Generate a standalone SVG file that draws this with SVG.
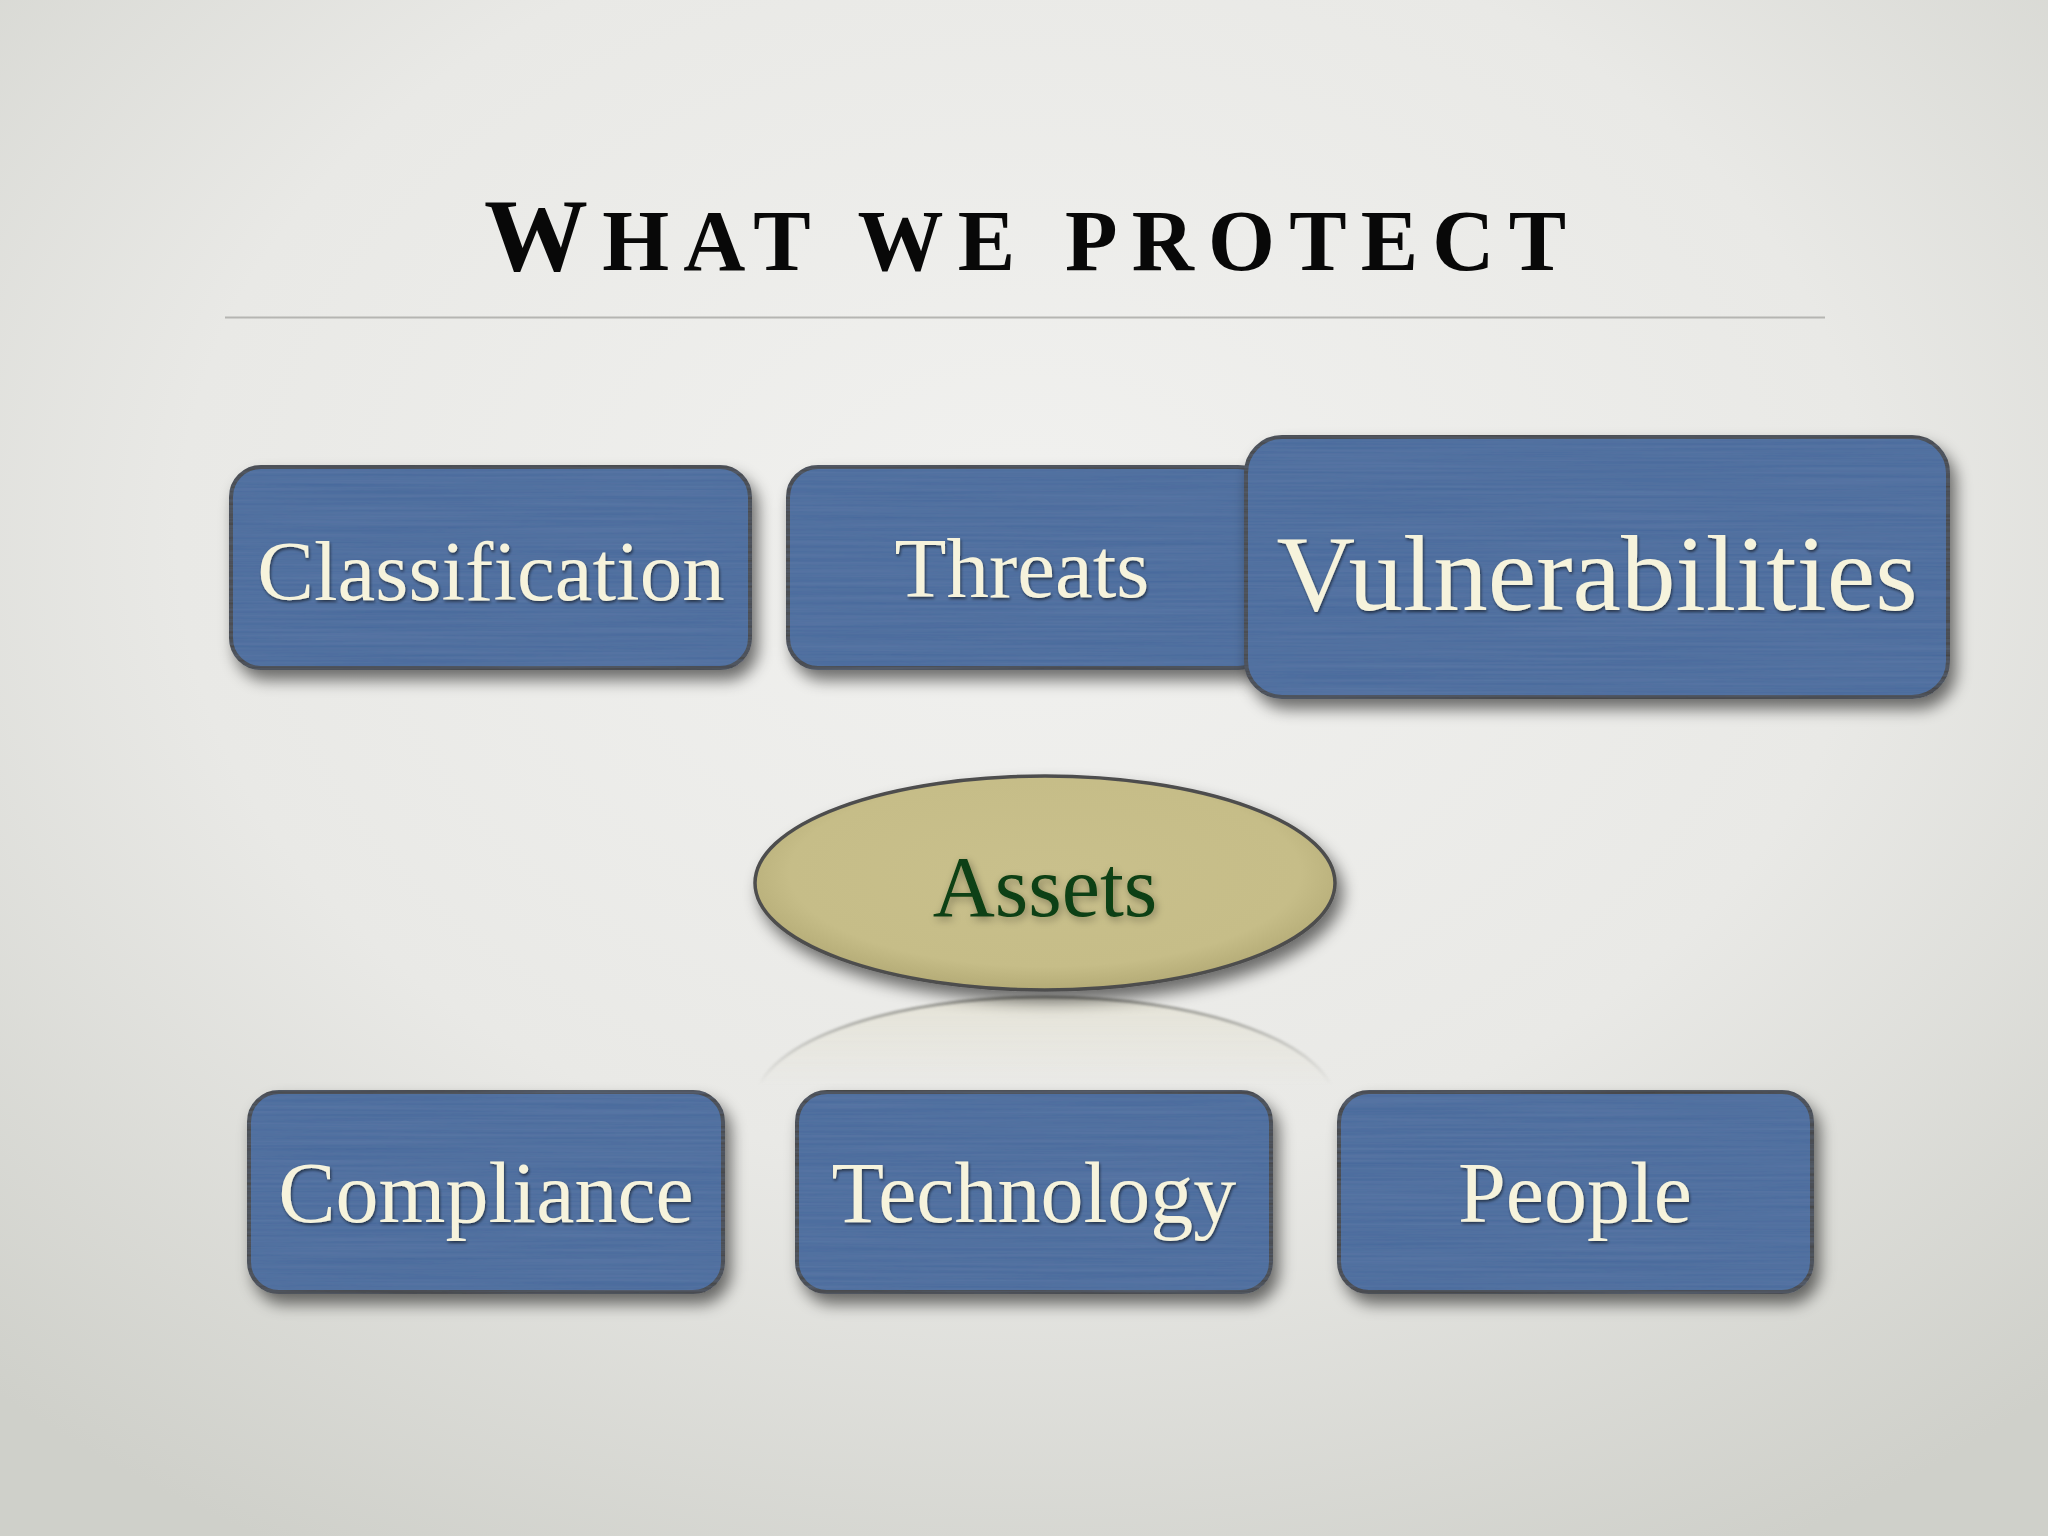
<svg xmlns="http://www.w3.org/2000/svg" width="2048" height="1536" viewBox="0 0 2048 1536">
  <defs>
    <radialGradient id="bg" cx="50%" cy="35%" r="75%">
      <stop offset="0" stop-color="#f1f1ef"/>
      <stop offset="0.55" stop-color="#e9e9e6"/>
      <stop offset="1" stop-color="#cfd0ca"/>
    </radialGradient>
    <radialGradient id="ellFill" cx="50%" cy="45%" r="55%">
      <stop offset="0" stop-color="#c9c08c"/>
      <stop offset="0.8" stop-color="#c6bd88"/>
      <stop offset="1" stop-color="#b4ab76"/>
    </radialGradient>
    <linearGradient id="maskGrad" x1="0" y1="990" x2="0" y2="1085" gradientUnits="userSpaceOnUse">
      <stop offset="0" stop-color="#fff" stop-opacity="1"/>
      <stop offset="0.5" stop-color="#fff" stop-opacity="0.45"/>
      <stop offset="1" stop-color="#fff" stop-opacity="0"/>
    </linearGradient>
    <mask id="reflMask" maskUnits="userSpaceOnUse" x="700" y="985" width="700" height="110">
      <rect x="700" y="985" width="700" height="110" fill="url(#maskGrad)"/>
    </mask>
    <filter id="shadow" x="-10%" y="-10%" width="125%" height="140%">
      <feGaussianBlur in="SourceAlpha" stdDeviation="8"/>
      <feOffset dx="6" dy="10" result="b"/>
      <feComponentTransfer><feFuncA type="linear" slope="0.55"/></feComponentTransfer>
      <feMerge><feMergeNode/><feMergeNode in="SourceGraphic"/></feMerge>
    </filter>
    <filter id="brushed" x="-3%" y="-3%" width="106%" height="106%">
      <feTurbulence type="fractalNoise" baseFrequency="0.004 0.35" numOctaves="2" seed="3" result="n"/>
      <feColorMatrix in="n" type="matrix" values="0 0 0 0 0.2  0 0 0 0 0.3  0 0 0 0 0.5  0 0 0 0.3 -0.05" result="c"/>
      <feComposite in="c" in2="SourceGraphic" operator="in" result="t"/>
      <feMerge><feMergeNode in="SourceGraphic"/><feMergeNode in="t"/></feMerge>
    </filter>
    <filter id="txtShadow" x="-5%" y="-20%" width="110%" height="140%">
      <feGaussianBlur in="SourceAlpha" stdDeviation="1.5"/>
      <feOffset dx="1" dy="2"/>
      <feComponentTransfer><feFuncA type="linear" slope="0.55"/></feComponentTransfer>
      <feMerge><feMergeNode/><feMergeNode in="SourceGraphic"/></feMerge>
    </filter>
    <filter id="glow" x="-10%" y="-30%" width="120%" height="160%">
      <feGaussianBlur in="SourceAlpha" stdDeviation="4"/>
      <feOffset dx="2" dy="3"/>
      <feComponentTransfer><feFuncA type="linear" slope="0.35"/></feComponentTransfer>
      <feMerge><feMergeNode/><feMergeNode in="SourceGraphic"/></feMerge>
    </filter>
    <filter id="soft" x="-5%" y="-20%" width="110%" height="140%">
      <feGaussianBlur stdDeviation="1.2"/>
    </filter>
  </defs>
  <style>
    .box { fill: #4b6c9d; stroke: #464646; stroke-width: 4; }
    .lbl { font-family: "Liberation Serif", "DejaVu Serif", serif; fill: #f6f3dc; text-anchor: middle; }
    .title { font-family: "Liberation Serif", "DejaVu Serif", serif; font-weight: bold; fill: #080808; }
  </style>

  <rect x="0" y="0" width="2048" height="1536" fill="url(#bg)"/>

  <g id="title">
    <text class="title" x="484" y="270" textLength="1082" lengthAdjust="spacing"><tspan font-size="104">W</tspan><tspan font-size="86">HAT WE PROTECT</tspan></text>
    <line x1="225" y1="317.5" x2="1825" y2="317.5" stroke="#b5b5b2" stroke-width="2"/>
  </g>

  <g id="connectors"></g>

  <g id="node-classification">
    <g filter="url(#shadow)"><rect class="box" filter="url(#brushed)" x="231" y="467" width="519" height="201" rx="30"/></g>
    <text class="lbl" x="491" y="600" font-size="85" filter="url(#txtShadow)">Classification</text>
  </g>

  <g id="node-threats">
    <g filter="url(#shadow)"><rect class="box" filter="url(#brushed)" x="788" y="467" width="480" height="201" rx="30"/></g>
    <text class="lbl" x="1022" y="597" font-size="85" filter="url(#txtShadow)">Threats</text>
  </g>

  <g id="node-vulnerabilities">
    <g filter="url(#shadow)"><rect class="box" filter="url(#brushed)" x="1246" y="437" width="702" height="260" rx="36"/></g>
    <text class="lbl" x="1597" y="610" font-size="109" filter="url(#txtShadow)">Vulnerabilities</text>
  </g>

  <g id="node-assets">
    <g mask="url(#reflMask)">
      <ellipse cx="1045" cy="1104" rx="290" ry="107" fill="#dedbc4" fill-opacity="0.55"/>
      <ellipse cx="1045" cy="1104" rx="290" ry="107" fill="none" stroke="#8f8f88" stroke-width="3" filter="url(#soft)"/>
    </g>
    <g filter="url(#shadow)"><ellipse cx="1045" cy="883" rx="290" ry="107" fill="url(#ellFill)" stroke="#4d4d4d" stroke-width="3.5"/></g>
    <text x="1045" y="916" font-size="86" font-family="Liberation Serif, DejaVu Serif, serif" fill="#0e4012" text-anchor="middle" filter="url(#glow)">Assets</text>
  </g>

  <g id="node-compliance">
    <g filter="url(#shadow)"><rect class="box" filter="url(#brushed)" x="249" y="1092" width="474" height="200" rx="30"/></g>
    <text class="lbl" x="486" y="1222" font-size="86" filter="url(#txtShadow)">Compliance</text>
  </g>

  <g id="node-technology">
    <g filter="url(#shadow)"><rect class="box" filter="url(#brushed)" x="797" y="1092" width="474" height="200" rx="30"/></g>
    <text class="lbl" x="1034" y="1222" font-size="86" filter="url(#txtShadow)">Technology</text>
  </g>

  <g id="node-people">
    <g filter="url(#shadow)"><rect class="box" filter="url(#brushed)" x="1339" y="1092" width="473" height="200" rx="30"/></g>
    <text class="lbl" x="1575" y="1222" font-size="86" filter="url(#txtShadow)">People</text>
  </g>
</svg>
